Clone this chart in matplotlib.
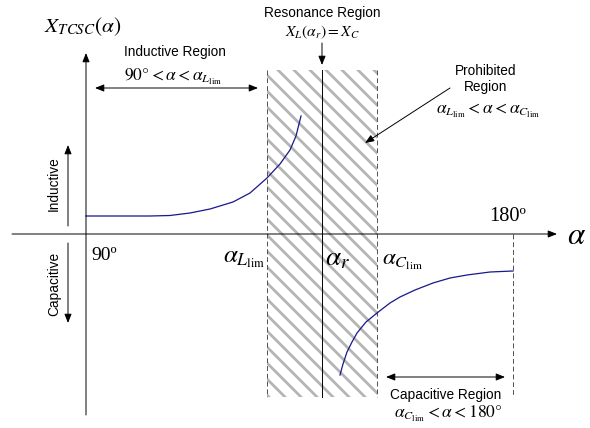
import matplotlib
matplotlib.use("Agg")
import matplotlib.pyplot as plt

# ----------------------------------------------
# TCSC reactance vs firing angle (schematic, pixel units)
# ----------------------------------------------
DPI = 96
S = 70 / DPI  # sizes below were tuned at 70 dpi

plt.rcParams["mathtext.fontset"] = "stix"
plt.rcParams["font.family"] = ["Liberation Sans", "DejaVu Sans"]
plt.rcParams["hatch.linewidth"] = 2.8 * S

# key positions on the alpha axis (x) and reactance axis (y)
alpha_90 = 86
alpha_l_lim = 267
alpha_r = 322
alpha_c_lim = 377
alpha_180 = 513
axis_y = 234

# inductive branch
ind_x = [86, 120, 150, 170, 190, 210, 233, 250, 267, 280, 290, 296, 301]
ind_y = [216, 216, 216, 215.5, 213, 209, 202, 193, 178, 164, 150, 136, 116]

# capacitive branch
cap_x = [340, 343, 347, 352, 357, 366, 377, 390, 400, 415, 433, 450, 467, 490, 513]
cap_y = [375, 364, 352, 342, 333, 322, 313, 303, 297, 290, 283, 278, 275, 272, 271]

fig = plt.figure(figsize=(590 / DPI, 428 / DPI), dpi=DPI)
ax = fig.add_axes([0, 0, 1, 1])
ax.set_xlim(0, 590)
ax.set_ylim(428, 0)
ax.axis("off")

arrow = dict(arrowstyle="-|>,head_width=0.22,head_length=0.55", color="black",
             lw=1 * S, shrinkA=0, shrinkB=0, mutation_scale=14 * S)
darrow = dict(arrowstyle="<|-|>,head_width=0.22,head_length=0.55", color="black",
              lw=1 * S, shrinkA=0, shrinkB=0, mutation_scale=14 * S)

# prohibited band
ax.fill_betweenx([70, 397], alpha_l_lim, alpha_c_lim, facecolor="none",
                 edgecolor="#b4b4b4", hatch="\\\\", linewidth=0)
dash = dict(color="#505050", lw=1 * S, linestyle=(0, (5, 3)))
ax.plot([alpha_l_lim, alpha_l_lim], [70, 397], **dash)
ax.plot([alpha_c_lim, alpha_c_lim], [70, 397], **dash)
ax.plot([alpha_180, alpha_180], [axis_y, 397], **dash)
ax.plot([alpha_r, alpha_r], [70, 397], color="black", lw=1 * S)

# axes
ax.annotate("", xy=(557, axis_y), xytext=(12, axis_y), arrowprops=arrow)
ax.annotate("", xy=(alpha_90, 53), xytext=(alpha_90, 415), arrowprops=arrow)

# curves
ax.plot(ind_x, ind_y, color="#1a1a8c", lw=1.3 * S)
ax.plot(cap_x, cap_y, color="#1a1a8c", lw=1.3 * S)

# axis labels
ax.text(44, 27, r"$X_{TCSC}(\alpha)$", fontsize=22 * S, va="center", ha="left")
ax.text(586, 236, r"$\alpha$", fontsize=32 * S, va="center", ha="right")
ax.text(91, 255, "90º", fontsize=20 * S, family="Liberation Serif", va="center")
ax.text(489, 216, "180º", fontsize=21 * S, family="Liberation Serif", va="center")
ax.text(265, 258, r"$\alpha_{L_{\mathrm{lim}}}$", fontsize=26 * S, va="center", ha="right")
ax.text(325, 258, r"$\alpha_{r}$", fontsize=28 * S, va="center", ha="left")
ax.text(382, 260, r"$\alpha_{C_{\mathrm{lim}}}$", fontsize=24 * S, va="center", ha="left")

# inductive / capacitive side arrows
ax.annotate("", xy=(68, 145), xytext=(68, 226), arrowprops=arrow)
ax.annotate("", xy=(68, 323), xytext=(68, 243), arrowprops=arrow)
ax.text(54, 184, "Inductive", rotation=90, fontsize=14 * S, va="center", ha="center")
ax.text(54, 284, "Capacitive", rotation=90, fontsize=14 * S, va="center", ha="center")

# inductive region
ax.text(175, 52, "Inductive Region", fontsize=14 * S, ha="center", va="center")
ax.text(173, 77, r"$90\degree < \alpha < \alpha_{L_{\mathrm{lim}}}$", fontsize=18 * S,
        ha="center", va="center")
ax.annotate("", xy=(95, 88), xytext=(258, 88), arrowprops=darrow)

# resonance region
ax.text(alpha_r, 13, "Resonance Region", fontsize=14 * S, ha="center", va="center")
ax.text(alpha_r, 32, r"$X_L(\alpha_r) = X_C$", fontsize=16 * S, ha="center", va="center")
ax.annotate("", xy=(alpha_r, 65), xytext=(alpha_r, 43), arrowprops=arrow)

# prohibited region
ax.text(486, 79, "Prohibited\nRegion", fontsize=14 * S, ha="center", va="center",
        linespacing=1.2)
ax.text(488, 111, r"$\alpha_{L_{\mathrm{lim}}} < \alpha < \alpha_{C_{\mathrm{lim}}}$",
        fontsize=18 * S, ha="center", va="center")
ax.annotate("", xy=(365, 143), xytext=(450, 88), arrowprops=arrow)

# capacitive region
ax.annotate("", xy=(386, 377), xytext=(505, 377), arrowprops=darrow)
ax.text(446, 395, "Capacitive Region", fontsize=14 * S, ha="center", va="center")
ax.text(448, 414, r"$\alpha_{C_{\mathrm{lim}}} < \alpha < 180\degree$", fontsize=18 * S,
        ha="center", va="center")

fig.savefig("out.png", dpi=DPI)
